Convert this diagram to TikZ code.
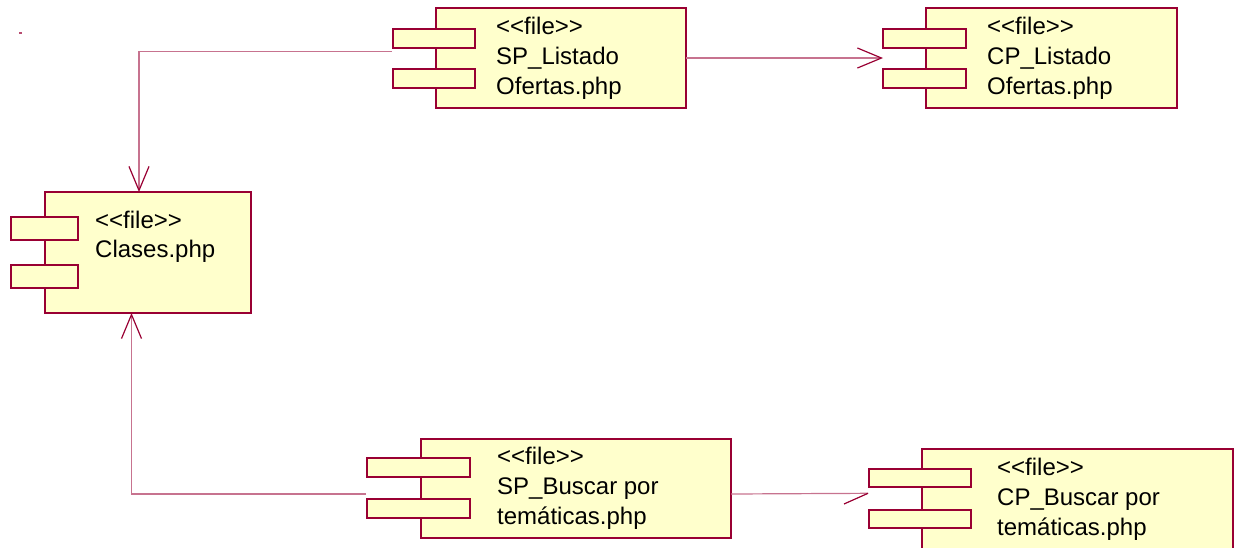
\documentclass[tikz,border=0pt]{standalone}
\usepackage{fontspec}
\setmainfont{Liberation Sans}[Ligatures=TeXOff]
\usetikzlibrary{arrows.meta}
\definecolor{crim}{RGB}{153,0,51}
\definecolor{paper}{RGB}{255,255,204}

\begin{document}
\begin{tikzpicture}[x=1pt,y=-1pt,
  body/.style={draw=crim, fill=paper, line width=2pt, inner sep=0pt, outer sep=0pt, anchor=north west},
  txt/.style={anchor=base west, inner sep=0pt, font=\fontsize{24}{30}\selectfont},
  dep/.style={draw=crim!55, line width=1.2pt},
  barb/.style={-{Straight Barb[length=24pt,width=20pt,line width=1.2pt,color=crim]}}]

\useasboundingbox (0,0) rectangle (1237,547);
\begin{scope}
\clip (0,0) rectangle (1237,547);

% stray mark in the corner
\fill[crim!70] (19,32) rectangle (22,34);

% SP_Listado Ofertas.php
\node[body, minimum width=250pt, minimum height=100pt] (spl) at (436,8) {};
\node[body, minimum width=82pt, minimum height=19pt] (spltabA) at (393,29) {};
\node[body, minimum width=82pt, minimum height=19pt] (spltabB) at (393,69) {};
\node[txt] (spltA) at (496,34.5) {<<file>>};
\node[txt] (spltB) at (496,64.5) {SP\_Listado};
\node[txt] (spltC) at (496,94.5) {Ofertas.php};

% CP_Listado Ofertas.php
\node[body, minimum width=251pt, minimum height=100pt] (cpl) at (926,8) {};
\node[body, minimum width=83pt, minimum height=19pt] (cpltabA) at (883,29) {};
\node[body, minimum width=83pt, minimum height=19pt] (cpltabB) at (883,69) {};
\node[txt] (cpltA) at (987,34.5) {<<file>>};
\node[txt] (cpltB) at (987,64.5) {CP\_Listado};
\node[txt] (cpltC) at (987,94.5) {Ofertas.php};

% Clases.php
\node[body, minimum width=206pt, minimum height=121pt] (cls) at (45,192) {};
\node[body, minimum width=67pt, minimum height=23pt] (clstabA) at (11,217) {};
\node[body, minimum width=67pt, minimum height=23pt] (clstabB) at (11,265) {};
\node[txt] (clstA) at (95,228) {<<file>>};
\node[txt] (clstB) at (95,257) {Clases.php};

% SP_Buscar por temáticas.php
\node[body, minimum width=310pt, minimum height=99pt] (spb) at (421,439) {};
\node[body, minimum width=103pt, minimum height=19pt] (spbtabA) at (367,458) {};
\node[body, minimum width=103pt, minimum height=19pt] (spbtabB) at (367,499) {};
\node[txt] (spbtA) at (497,464) {<<file>>};
\node[txt] (spbtB) at (497,494) {SP\_Buscar por};
\node[txt] (spbtC) at (497,524) {temáticas.php};

% CP_Buscar por temáticas.php
\node[body, minimum width=311pt, minimum height=120pt] (cpb) at (922,449) {};
\node[body, minimum width=102pt, minimum height=18pt] (cpbtabA) at (869,469) {};
\node[body, minimum width=102pt, minimum height=18pt] (cpbtabB) at (869,510) {};
\node[txt] (cpbtA) at (997,475) {<<file>>};
\node[txt] (cpbtB) at (997,505) {CP\_Buscar por};
\node[txt] (cpbtC) at (997,535) {temáticas.php};

% dependency connectors
\coordinate (splout) at (392,51.7);
\coordinate (spbout) at (366,494);
\coordinate (spbeast) at (731,494);
\coordinate (cpbtip) at (868,493.3);

\draw[dep, barb] (splout) -| ([xshift=-9pt]cls.north);
\draw[dep, barb] (spl.east) -- (spl.east -| cpltabA.west);
\draw[dep, barb] (spbout) -| ([xshift=-16.5pt]cls.south);
\draw[dep] (spbeast) -- (cpbtip);
\draw[crim, line width=1.2pt] (cpbtip) -- ++(-24,10.7);
\end{scope}
\end{tikzpicture}
\end{document}
